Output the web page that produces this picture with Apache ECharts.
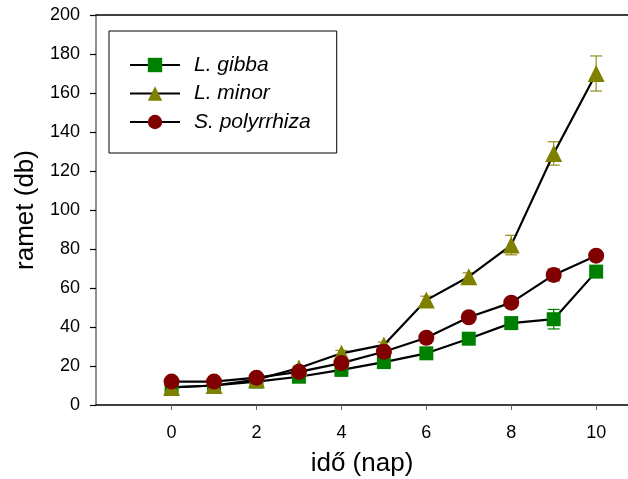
<!DOCTYPE html>
<html>
<head>
<meta charset="utf-8">
<script src="https://cdn.jsdelivr.net/npm/echarts@6/dist/echarts.min.js"></script>
<style>
  html, body { margin: 0; padding: 0; background: #fff; }
  #main { width: 628px; height: 479px; }
</style>
</head>
<body>
<div id="main"></div>
<script>
// napok
const days = [0, 1, 2, 3, 4, 5, 6, 7, 8, 9, 10]
const xTicks = [0, 2, 4, 6, 8, 10]

// ramet szám
const gibba = [9, 10, 12, 14.5, 18, 22, 26.5, 34, 42, 44, 68.4]
const minor = [9, 10, 13, 19, 26.5, 30.8, 53.8, 65.8, 82, 129, 170]
const polyrrhiza = [12, 12, 14, 17, 21.5, 27.3, 34.5, 45, 52.5, 66.7, 76.6]

// szórás
const gibbaErr = [0.5, 0.5, 0.5, 1, 1, 1, 1, 1.5, 1.5, 5, 2]
const minorErr = [0.5, 0.5, 1, 1, 1.5, 1.5, 2, 2, 5, 6, 9]
const polyrrhizaErr = [0.5, 0.5, 0.5, 1, 1, 1, 1.5, 1.5, 1.5, 3, 2]

const chart = echarts.init(document.getElementById('main'))

function pts(vals) {
    return days.map((d, i) => [d, vals[i]])
}
function errs(vals, e) {
    return days.map((d, i) => [d, vals[i] - e[i], vals[i] + e[i]])
}

function errSeries(name, vals, e, color) {
    return {
        type: 'custom',
        name: name + ' err',
        z: 1,
        silent: true,
        data: errs(vals, e),
        encode: {x: 0, y: [1, 2]},
        renderItem: function (params, api) {
            const lo = api.coord([api.value(0), api.value(1)])
            const hi = api.coord([api.value(0), api.value(2)])
            const w = 6
            const st = {stroke: color, lineWidth: 1.2}
            return {
                type: 'group',
                children: [
                    {type: 'line', shape: {x1: lo[0], y1: lo[1], x2: hi[0], y2: hi[1]}, style: st},
                    {type: 'line', shape: {x1: lo[0] - w, y1: lo[1], x2: lo[0] + w, y2: lo[1]}, style: st},
                    {type: 'line', shape: {x1: hi[0] - w, y1: hi[1], x2: hi[0] + w, y2: hi[1]}, style: st}
                ]
            }
        }
    }
}

function lineSeries(name, vals, symbol, size, color) {
    return {
        type: 'line',
        name: name,
        z: 3,
        data: pts(vals),
        symbol: symbol,
        symbolSize: size,
        showAllSymbol: true,
        itemStyle: {color: color, borderWidth: 0},
        lineStyle: {color: '#000', width: 2.2},
        emphasis: {disabled: true}
    }
}

const labelFont = {fontFamily: 'Liberation Sans', fontSize: 18, color: '#000'}

chart.setOption({
    animation: false,
    grid: {left: 96, right: 0, top: 15, bottom: 74, containLabel: false, outerBoundsMode: 'none'},
    legend: {
        left: 109,
        top: 31,
        orient: 'vertical',
        data: ['L. gibba', 'L. minor', 'S. polyrrhiza'],
        borderColor: '#000',
        borderWidth: 1,
        padding: [23, 26, 20, 20],
        itemWidth: 50,
        itemHeight: 18,
        itemGap: 6.5,
        textStyle: {fontFamily: 'Liberation Sans', fontSize: 21, lineHeight: 22, fontStyle: 'italic', color: '#000', padding: [0, 0, 0, 9]}
    },
    xAxis: [{
        type: 'value',
        min: -1.78,
        max: 10.75,
        name: 'idő (nap)',
        nameLocation: 'middle',
        nameGap: 46,
        nameTextStyle: {fontFamily: 'Liberation Sans', fontSize: 26, color: '#000'},
        splitLine: {show: false},
        axisLine: {onZero: false, lineStyle: {color: '#000', width: 1.5}},
        axisTick: {show: true, length: 5, customValues: xTicks, lineStyle: {color: '#666'}},
        axisLabel: {customValues: xTicks, margin: 19, ...labelFont}
    }, {
        type: 'value',
        position: 'top',
        min: -1.78,
        max: 10.75,
        splitLine: {show: false},
        axisLine: {show: true, onZero: false, lineStyle: {color: '#000', width: 1.5}},
        axisTick: {show: false},
        axisLabel: {show: false}
    }],
    yAxis: {
        type: 'value',
        min: 0,
        max: 200,
        interval: 20,
        name: 'ramet (db)',
        nameLocation: 'middle',
        nameGap: 55,
        nameTextStyle: {fontFamily: 'Liberation Sans', fontSize: 26, color: '#000'},
        splitLine: {show: false},
        axisLine: {show: true, onZero: false, lineStyle: {color: '#6e6e6e', width: 1.5}},
        axisTick: {show: true, length: 6, lineStyle: {color: '#000', width: 1.2}},
        axisLabel: {margin: 16, ...labelFont}
    },
    series: [
        errSeries('L. gibba', gibba, gibbaErr, '#008000'),
        errSeries('L. minor', minor, minorErr, '#8f8f1a'),
        errSeries('S. polyrrhiza', polyrrhiza, polyrrhizaErr, '#800000'),
        lineSeries('L. gibba', gibba, 'rect', 14, '#008000'),
        lineSeries('L. minor', minor, 'triangle', 17, '#808000'),
        lineSeries('S. polyrrhiza', polyrrhiza, 'circle', 16, '#800000')
    ]
})
</script>
</body>
</html>
